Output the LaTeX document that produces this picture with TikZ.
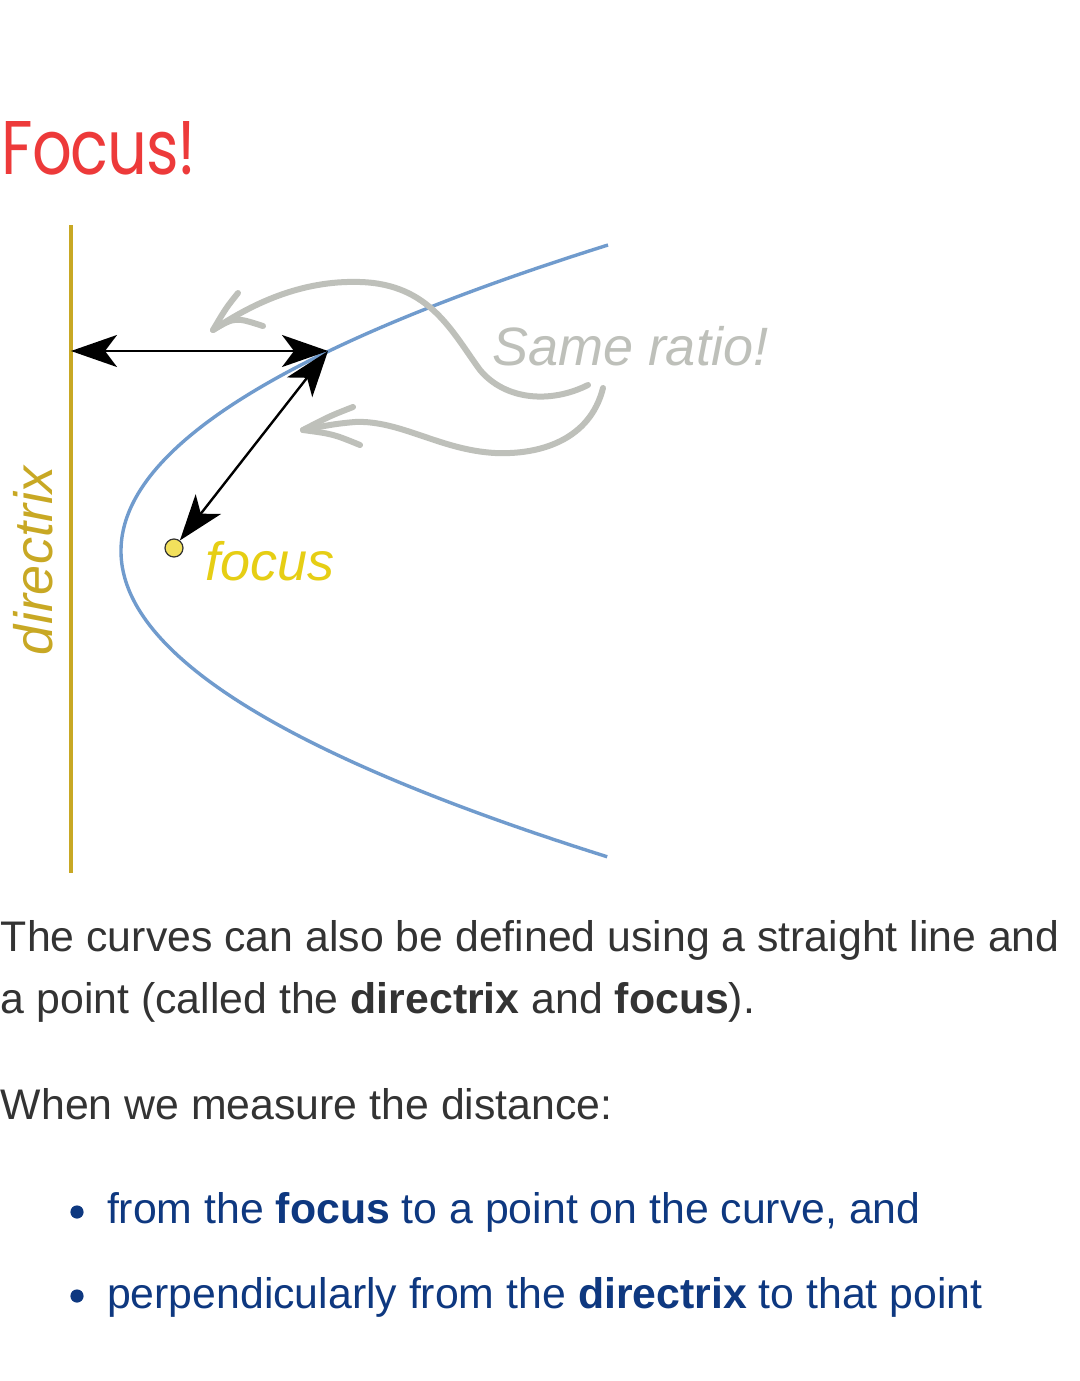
\documentclass[tikz,border=0pt]{standalone}
\usepackage{fontspec}
\setmainfont{Liberation Sans}
\newfontfamily\titlefont{Poppins}[LetterSpace=-2]
\usetikzlibrary{arrows.meta}
\definecolor{titlered}{RGB}{237,58,58}
\definecolor{bodygray}{RGB}{51,51,51}
\definecolor{navy}{RGB}{14,56,128}
\definecolor{curveblue}{RGB}{112,155,205}
\definecolor{arrowgray}{RGB}{190,192,186}
\definecolor{focusyellow}{RGB}{230,206,20}
\definecolor{dotyellow}{RGB}{242,224,92}
\definecolor{gold}{RGB}{200,168,36}
\tikzset{
  txt/.style={anchor=base west, inner sep=0pt, outer sep=0pt},
  bodytxt/.style={txt, text=bodygray, font=\fontsize{21.4pt}{25pt}\selectfont},
  bullettxt/.style={txt, text=navy, font=\fontsize{21.4pt}{25pt}\selectfont},
  lbl/.style={txt, font=\fontsize{27pt}{30pt}\selectfont\itshape},
  blk/.style={draw=black, line width=1.2pt, {Stealth[length=23pt,width=16pt,inset=6pt]}-{Stealth[length=23pt,width=16pt,inset=6pt]}},
  grayarrow/.style={draw=arrowgray, line width=3pt, line cap=round, line join=round},
}
\begin{document}
\begin{tikzpicture}[x=0.5pt,y=-0.5pt]
\fill[white] (0,0) rectangle (1080,1381);
\useasboundingbox (0,0) rectangle (1080,1381);

% title
\node[txt, text=titlered] (title) at (2,174) {\resizebox{97pt}{26.5pt}{\titlefont Focus!}};

% directrix
\draw[gold, line width=1.75pt] (71,225) coordinate (dtop) -- (71,873) coordinate (dbot);
\node[lbl, text=gold, rotate=90] (dlabel) at (52,655) {directrix};

% parabola
\draw[curveblue, line width=1.7pt] plot[domain=-1:1, samples=120, smooth] ({121+487*\x*\x}, {551+306*\x});

% points
\coordinate (P) at (328,351);
\coordinate (D) at (71,351);
\node[circle, draw=bodygray, fill=dotyellow, line width=0.6pt, minimum size=9pt, inner sep=0pt] (F) at (174,548) {};
\node[lbl, text=focusyellow] (flabel) at (205,580) {focus};

% black arrows
\draw[blk] (D) -- (P);
\draw[blk] (F) -- (P);

% gray arrows
\node[lbl, text=arrowgray] (same) at (492,365) {Same ratio!};
\draw[grayarrow] (588,385) .. controls (550,404) and (505,400) .. (480,370)
  .. controls (452,332) and (430,284) .. (360,282)
  .. controls (300,280) and (250,305) .. (213,330);
\draw[grayarrow] (238,293) .. controls (226,308) .. (213,330) .. controls (235,317) .. (263,326);
\draw[grayarrow] (603,388) .. controls (590,440) and (540,455) .. (495,453)
  .. controls (440,450) and (400,420) .. (355,422)
  .. controls (330,424) and (315,428) .. (303,430);
\draw[grayarrow] (353,407) .. controls (330,416) .. (303,430) .. controls (333,434) .. (360,445);

% body text
\node[bodytxt] (l1) at (1,951) {The curves can also be defined using a straight line and};
\node[bodytxt] (l2) at (1,1013) {a point (called the \textbf{directrix} and \textbf{focus}).};
\node[bodytxt] (l3) at (1,1119) {When we measure the distance:};

\fill[navy] (77,1212) circle (3.3pt);
\node[bullettxt] (b1) at (107,1223) {from the \textbf{focus} to a point on the curve, and};
\fill[navy] (77,1296) circle (3.3pt);
\node[bullettxt] (b2) at (107,1308) {perpendicularly from the \textbf{directrix} to that point};
\end{tikzpicture}
\end{document}
